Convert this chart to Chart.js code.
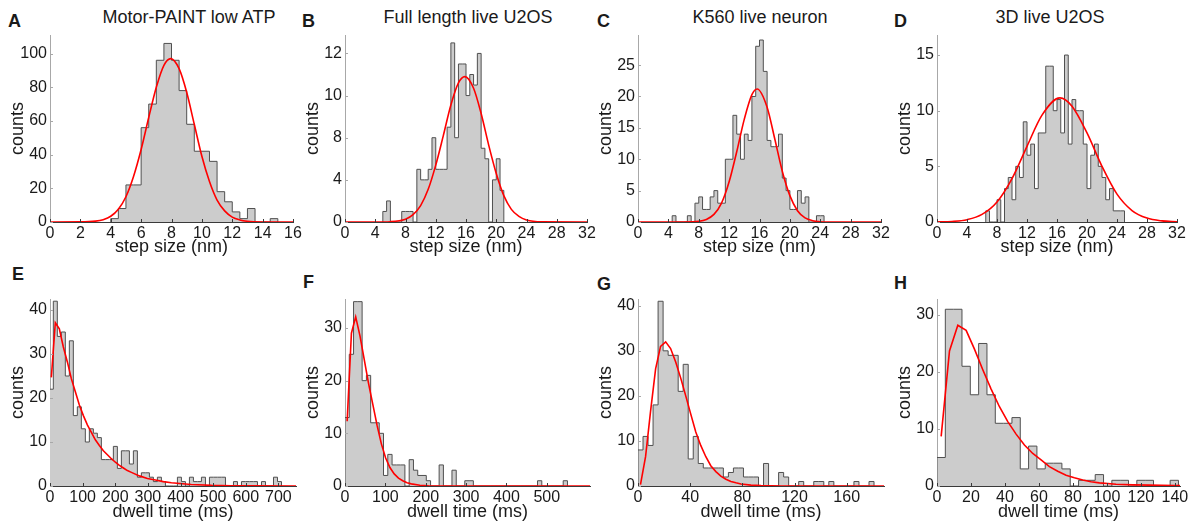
<!DOCTYPE html>
<html>
<head>
<meta charset="utf-8">
<script src="https://cdn.jsdelivr.net/npm/chart.js@4.4.1/dist/chart.umd.min.js"></script>
<style>
  body { margin: 0; background: #fff; }
  #fig { position: relative; width: 1188px; height: 527px; overflow: hidden; font-family: 'Liberation Sans', Arial, sans-serif; color: #1a1a1a; }
  #fig canvas { position: absolute; }
  .lbl { position: absolute; font-size: 18px; font-weight: bold; line-height: 18px; }
  .ttl { position: absolute; font-size: 18px; line-height: 18px; width: 300px; margin-left: -150px; text-align: center; white-space: nowrap; }
</style>
</head>
<body>
<div id="fig">
  <div class="lbl" style="left:8px;top:12px">A</div>
  <div class="lbl" style="left:302px;top:12px">B</div>
  <div class="lbl" style="left:597px;top:12px">C</div>
  <div class="lbl" style="left:894px;top:12px">D</div>
  <div class="lbl" style="left:12px;top:265px">E</div>
  <div class="lbl" style="left:303px;top:273px">F</div>
  <div class="lbl" style="left:597px;top:275px">G</div>
  <div class="lbl" style="left:894px;top:274px">H</div>
  <div class="ttl" style="left:189px;top:8px">Motor-PAINT low ATP</div>
  <div class="ttl" style="left:468px;top:8px">Full length live U2OS</div>
  <div class="ttl" style="left:760px;top:8px">K560 live neuron</div>
  <div class="ttl" style="left:1050px;top:8px">3D live U2OS</div>
</div>
<script>
// ---- step size histograms (bin start, bin width, counts) + fitted curve ----
const aBinStart = 4, aBinWidth = 0.5;
const aCounts = [2, 8, 22, 22, 56, 70, 96, 106, 96, 78, 58, 42, 42, 36, 18, 12, 6, 2, 8, 0, 0, 2];
const aFitX = [0, 2, 3, 3.5, 4, 4.5, 5, 5.5, 6, 6.5, 7, 7.5, 7.95, 8.5, 9, 9.5, 10, 10.5, 11, 11.5, 12, 12.5, 13, 14, 16];
const aFitY = [0, 0.05, 0.5, 1.4, 3.4, 7.6, 15, 27, 43, 62, 80, 93, 97, 91, 77, 58, 39, 24, 13, 6.6, 2.9, 1.2, 0.4, 0.04, 0];

const bBinStart = 5, bBinWidth = 0.5;
const bCounts = [1, 2, 0, 0, 0, 1, 1, 1, 0, 5, 4, 4, 5, 8, 5, 5, 5, 9, 17, 8, 15, 15, 12, 14, 13, 16, 7, 6, 0, 4, 6, 3];
const bFitX = [0, 4, 6, 8, 9, 10, 11, 12, 13, 14, 15, 15.85, 17, 18, 19, 20, 21, 22, 23, 24, 26, 32];
const bFitY = [0, 0, 0.03, 0.27, 0.7, 1.56, 3.1, 5.4, 8.2, 11.1, 13.2, 13.8, 12.7, 10.3, 7.3, 4.6, 2.5, 1.2, 0.53, 0.2, 0.02, 0];

const cBinStart = 4.5, cBinWidth = 0.5;
const cCounts = [1, 0, 0, 0, 1, 0, 3, 4, 2, 2, 4, 5, 3, 3, 10, 10, 17, 14, 10, 14, 13, 20, 28, 29, 24, 13, 12, 12, 14, 7, 5, 2, 2, 5, 3, 4, 0, 0, 1, 1];
const cFitX = [0, 6, 8, 9, 10, 11, 12, 13, 14, 15, 15.7, 17, 18, 19, 20, 21, 22, 23, 24, 26, 32];
const cFitY = [0, 0.005, 0.11, 0.41, 1.21, 3.0, 6.4, 11.2, 16.4, 20.3, 21.2, 18.3, 13.3, 8.1, 4.2, 1.8, 0.65, 0.2, 0.05, 0, 0];

const dBinStart = 6.5, dBinWidth = 0.5;
const dCounts = [1, 0, 0, 2, 0, 3, 4, 2, 5, 4, 9, 6, 7, 3, 8, 8, 14, 14, 10, 11, 8, 15, 7, 11, 10, 10, 7, 3, 6, 7, 5, 4, 2, 3, 1, 1, 1];
const dFitX = [0, 2, 4, 6, 8, 10, 12, 14, 16.4, 18, 20, 22, 24, 26, 28, 30, 32];
const dFitY = [0.01, 0.05, 0.21, 0.68, 1.8, 3.9, 6.8, 9.6, 11.15, 10.4, 8.0, 5.0, 2.5, 1.03, 0.35, 0.1, 0.02];

// ---- dwell time histograms ----
const eBinStart = -2.1, eBinWidth = 12.27;
const eCounts = [22, 42, 34, 35, 25, 33, 16, 18, 13, 10, 13, 12, 11, 6, 6, 6, 9, 4, 8, 8,
                 5, 8, 2, 3, 3, 2, 1, 2, 1, 0, 0, 0, 2, 1, 0, 2, 1, 1, 2, 0,
                 2, 2, 2, 2, 0, 0, 1, 0, 1, 1, 1, 1, 0, 1, 0, 0, 2, 1];
const eFitX = [4.1, 16.3, 28.6, 40.9, 53.2, 65.4, 77.7, 90, 102.3, 114.5, 126.8, 139, 151.3, 163.6, 175.9, 188.1, 200.4, 212.7, 225, 237.2, 249.5, 274, 298.5, 323, 347.6, 372, 433, 495, 556, 617, 754];
const eFitY = [24.7, 37.1, 35.7, 31.6, 28.2, 24.4, 21.4, 18.4, 16, 13.9, 12.2, 10.5, 9.2, 8.0, 7.1, 6.2, 5.4, 4.7, 4.1, 3.5, 3.1, 2.3, 1.7, 1.35, 1.0, 0.75, 0.35, 0.15, 0.07, 0.03, 0];

const fBinStart = 0, fBinWidth = 10.6;
const fCounts = [13, 25, 35, 35, 20, 21, 12, 12, 10, 2, 6, 4, 4, 4, 0, 5, 3, 2, 2, 1,
                 0, 0, 4, 0, 0, 3, 0, 0, 1, 1, 0, 0, 0, 0, 0, 0, 0, 0, 0, 0,
                 0, 0, 0, 0, 0, 1, 0, 0, 0, 0, 0, 1];
const fFitX = [5.3, 15.9, 26.5, 37.1, 47.7, 58.3, 68.9, 79.5, 90.1, 100.7, 111.3, 121.9, 132.5, 143.1, 153.7, 164.3, 185.5, 206.7, 250, 607];
const fFitY = [12.3, 29, 32.1, 28.5, 24, 19.5, 15.5, 11.5, 8, 5.3, 3.5, 2.3, 1.5, 1.0, 0.6, 0.4, 0.15, 0.05, 0, 0];

const gBinStart = 0, gBinWidth = 3.85;
const gCounts = [8, 11, 9, 18, 41, 30, 29, 29, 21, 27, 6, 11, 5, 4, 4, 4, 4, 2, 3, 4,
                 4, 2, 2, 2, 0, 5, 0, 0, 3, 2, 0, 0, 1, 0, 0, 1, 1, 0, 1, 0,
                 0, 0, 0, 1, 0, 0, 1];
const gFitX = [1.9, 5.8, 9.6, 13.5, 17.3, 21.2, 25, 28.9, 32.7, 36.6, 40.4, 44.3, 48.1, 52, 55.8, 59.7, 63.5, 67.4, 71.2, 75.1, 78.9, 86.6, 94.3, 110, 189];
const gFitY = [0.3, 6.5, 16.5, 26, 31, 32, 30.5, 27.5, 24, 20, 16, 12, 9, 6.5, 4.5, 3.2, 2.2, 1.5, 1.0, 0.7, 0.45, 0.2, 0.08, 0.01, 0];

const hBinStart = 0, hBinWidth = 4.9;
const hCounts = [5, 31, 31, 21, 16, 25, 16, 11, 11, 12, 3, 7, 3, 4, 4, 3, 0, 1, 1, 2, 0, 1, 1, 0, 1, 1, 0, 0, 1];
const hFitX = [2.45, 7.35, 12.25, 17.15, 22.05, 26.95, 31.85, 36.75, 41.65, 46.55, 51.45, 56.35, 61.25, 66.15, 71.05, 75.95, 80.85, 85.75, 90.65, 95.55, 105.35, 115.15, 124.95, 139.65, 143];
const hFitY = [8.7, 23.7, 28.2, 27.3, 24, 20.4, 17, 13.9, 11.3, 9.1, 7.2, 5.7, 4.6, 3.4, 2.6, 1.9, 1.45, 1.05, 0.75, 0.55, 0.3, 0.2, 0.15, 0.1, 0.1];

// ---- axis ticks ----
const stepTicksA = [0, 2, 4, 6, 8, 10, 12, 14, 16];
const stepTicks = [0, 4, 8, 12, 16, 20, 24, 28, 32];
const aYTicks = [0, 20, 40, 60, 80, 100];
const bYTicks = [0, 4, 8, 12, 16];
const bYLabels = ['0', '4', '8', '10', '12'];   // as printed in the figure
const cYTicks = [0, 5, 10, 15, 20, 25];
const dYTicks = [0, 5, 10, 15];
const eXTicks = [0, 100, 200, 300, 400, 500, 600, 700];
const fXTicks = [0, 100, 200, 300, 400, 500];
const gXTicks = [0, 40, 80, 120, 160];
const hXTicks = [0, 20, 40, 60, 80, 100, 120, 140];
const dwellYTicks = [0, 10, 20, 30, 40];

const FONT = "'Liberation Sans', Arial, sans-serif";
const INK = '#1a1a1a';

function stairs(start, width, counts) {
  const pts = [{x: start, y: 0}];
  counts.forEach((c, i) => pts.push({x: start + i * width, y: c}));
  pts.push({x: start + counts.length * width, y: 0});
  return pts;
}
function curve(xs, ys) {
  return xs.map((x, i) => ({x: x, y: ys[i]}));
}

// small inward tick marks like the original plots
const innerTicks = {
  id: 'innerTicks',
  afterDatasetsDraw(chart) {
    const {ctx, chartArea: a, scales: {x, y}} = chart;
    ctx.save();
    ctx.lineWidth = 1;
    ctx.strokeStyle = '#3a3a3a';
    ctx.beginPath();
    x.ticks.forEach(t => {
      const px = Math.round(x.getPixelForValue(t.value)) + 0.5;
      ctx.moveTo(px, a.bottom); ctx.lineTo(px, a.bottom - 3);
    });
    ctx.stroke();
    ctx.strokeStyle = '#a8a8a8';
    ctx.beginPath();
    y.ticks.forEach(t => {
      const py = Math.round(y.getPixelForValue(t.value)) + 0.5;
      ctx.moveTo(a.left, py); ctx.lineTo(a.left + 3, py);
    });
    ctx.stroke();
    ctx.restore();
  }
};

const fig = document.getElementById('fig');

function panel(p) {
  const w = p.r - p.l, h = p.b - p.t;
  const cv = document.createElement('canvas');
  cv.width = w + 76; cv.height = h + 59;
  cv.style.left = (p.l - 60) + 'px';
  cv.style.top = (p.t - 14) + 'px';
  cv.style.width = cv.width + 'px';
  cv.style.height = cv.height + 'px';
  fig.appendChild(cv);

  new Chart(cv, {
    type: 'line',
    data: {
      datasets: [
        {
          data: curve(p.fitX, p.fitY),
          borderColor: '#ff0000',
          borderWidth: 1.6,
          pointRadius: 0,
          fill: false,
          tension: 0,
          cubicInterpolationMode: p.smooth ? 'monotone' : 'default',
          order: 0
        },
        {
          data: stairs(p.start, p.width, p.counts),
          stepped: 'before',
          borderColor: '#505050',
          borderWidth: 1,
          backgroundColor: '#cccccc',
          fill: 'origin',
          pointRadius: 0,
          order: 1
        }
      ]
    },
    options: {
      responsive: false,
      devicePixelRatio: 1,
      animation: false,
      events: [],
      layout: {padding: {left: 0, top: 14, right: 16, bottom: 0}},
      plugins: {legend: {display: false}, tooltip: {enabled: false}},
      scales: {
        x: {
          type: 'linear', min: 0, max: p.xMax,
          afterBuildTicks: s => { s.ticks = p.xTicks.map(v => ({value: v})); },
          afterFit: s => { s.height = 45; },
          grid: {display: false, drawTicks: false},
          border: {display: true, color: '#3a3a3a', width: 1},
          ticks: {padding: 2, color: INK, font: {family: FONT, size: 16}, maxRotation: 0, autoSkip: false,
                  callback: v => String(v)},
          title: {display: true, text: p.xTitle, color: INK, font: {family: FONT, size: 18},
                  padding: {top: 0, bottom: p.titleGap}}
        },
        y: {
          type: 'linear', min: 0, max: p.yMax,
          afterBuildTicks: s => { s.ticks = p.yTicks.map(v => ({value: v})); },
          afterFit: s => { s.width = 60; },
          grid: {display: false, drawTicks: false},
          border: {display: true, color: '#a8a8a8', width: 1},
          ticks: {padding: 3, color: INK, font: {family: FONT, size: 16}, autoSkip: false,
                  callback: (v, i) => p.yLabels ? p.yLabels[i] : String(v)},
          title: {display: true, text: 'counts', color: INK, font: {family: FONT, size: 18},
                  padding: {top: 17, bottom: 0}}
        }
      }
    },
    plugins: [innerTicks]
  });
}

const stepTitle = 'step size (nm)', dwellTitle = 'dwell time (ms)';

panel({l: 50, r: 293, t: 35, b: 222, start: aBinStart, width: aBinWidth, counts: aCounts, fitX: aFitX, fitY: aFitY, smooth: true,
       xMax: 16, yMax: 111, xTicks: stepTicksA, yTicks: aYTicks, xTitle: stepTitle, titleGap: 9.5});
panel({l: 345, r: 587, t: 35, b: 222, start: bBinStart, width: bBinWidth, counts: bCounts, fitX: bFitX, fitY: bFitY, smooth: true,
       xMax: 32, yMax: 17.75, xTicks: stepTicks, yTicks: bYTicks, yLabels: bYLabels, xTitle: stepTitle, titleGap: 9.5});
panel({l: 638, r: 881, t: 35, b: 222, start: cBinStart, width: cBinWidth, counts: cCounts, fitX: cFitX, fitY: cFitY, smooth: true,
       xMax: 32, yMax: 29.8, xTicks: stepTicks, yTicks: cYTicks, xTitle: stepTitle, titleGap: 9.5});
panel({l: 937, r: 1177, t: 35, b: 222, start: dBinStart, width: dBinWidth, counts: dCounts, fitX: dFitX, fitY: dFitY, smooth: true,
       xMax: 32, yMax: 16.8, xTicks: stepTicks, yTicks: dYTicks, xTitle: stepTitle, titleGap: 9.5});

panel({l: 50, r: 296, t: 299, b: 486, start: eBinStart, width: eBinWidth, counts: eCounts, fitX: eFitX, fitY: eFitY, smooth: false,
       xMax: 754, yMax: 42.5, xTicks: eXTicks, yTicks: dwellYTicks, xTitle: dwellTitle, titleGap: 8});
panel({l: 345, r: 590, t: 299, b: 486, start: fBinStart, width: fBinWidth, counts: fCounts, fitX: fFitX, fitY: fFitY, smooth: false,
       xMax: 607, yMax: 35.5, xTicks: fXTicks, yTicks: [0, 10, 20, 30], xTitle: dwellTitle, titleGap: 8});
panel({l: 638, r: 884, t: 299, b: 486, start: gBinStart, width: gBinWidth, counts: gCounts, fitX: gFitX, fitY: gFitY, smooth: false,
       xMax: 188.6, yMax: 41.5, xTicks: gXTicks, yTicks: dwellYTicks, xTitle: dwellTitle, titleGap: 8});
panel({l: 937, r: 1180, t: 299, b: 486, start: hBinStart, width: hBinWidth, counts: hCounts, fitX: hFitX, fitY: hFitY, smooth: false,
       xMax: 143, yMax: 32.8, xTicks: hXTicks, yTicks: [0, 10, 20, 30], xTitle: dwellTitle, titleGap: 8});
</script>
</body>
</html>
